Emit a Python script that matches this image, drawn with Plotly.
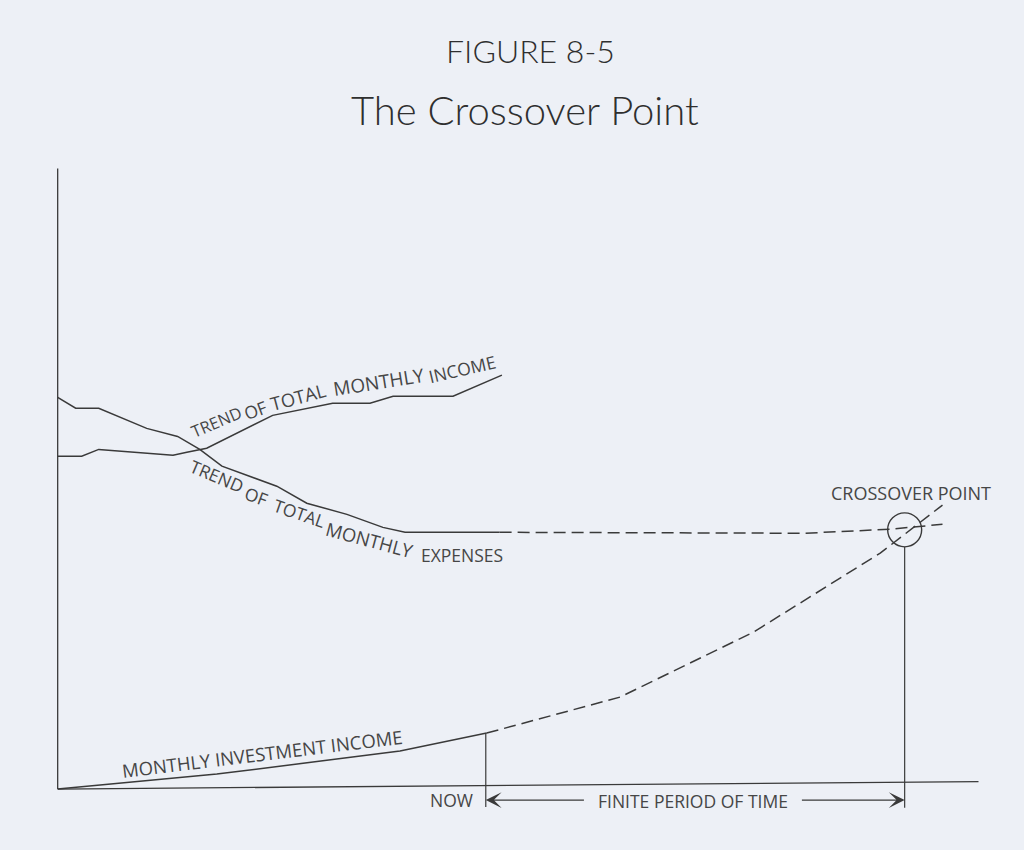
import plotly.graph_objects as go

# ---- data (time units 0..100 on x, amount units 0..100 on y) ----
exp_x = [0, 1.95, 4.45, 9.65, 13.0, 15.4, 17.8, 23.75, 27.0, 31.35, 35.25, 37.65, 47.9]
exp_y = [63.3, 61.55, 61.55, 58.3, 57.0, 54.9, 52.2, 48.95, 46.2, 44.4, 42.3, 41.5, 41.5]
exp_proj_x = [47.9, 81.0, 90.2, 95.9]
exp_proj_y = [41.5, 41.35, 42.0, 42.8]

inc_x = [0, 2.6, 4.45, 12.5, 14.0, 16.15, 23.3, 29.8, 33.85, 36.35, 42.85, 48.15]
inc_y = [53.8, 53.8, 54.9, 53.95, 54.45, 55.1, 60.4, 62.35, 62.35, 63.5, 63.5, 66.9]

inv_x = [0, 7.05, 17.25, 37.1, 46.5]
inv_y = [0, 0.97, 2.42, 6.14, 9.05]
inv_proj_x = [46.5, 60.95, 75.4, 89.15, 95.9]
inv_proj_y = [9.05, 14.86, 25.36, 38.13, 45.9]

NOW_X = 46.4
CROSS_X = 91.8
CROSS_Y = 41.9

LINE = "#3a3a3a"
TXT = "#464646"
BG = "#edf0f6"
DASH = "12px,6px"

fig = go.Figure()
solid = dict(color=LINE, width=1.5)
dashed = dict(color=LINE, width=1.5, dash=DASH)
fig.add_trace(go.Scatter(x=exp_x, y=exp_y, mode="lines", line=solid, hoverinfo="skip"))
fig.add_trace(go.Scatter(x=exp_proj_x, y=exp_proj_y, mode="lines", line=dashed, hoverinfo="skip"))
fig.add_trace(go.Scatter(x=inc_x, y=inc_y, mode="lines", line=solid, hoverinfo="skip"))
fig.add_trace(go.Scatter(x=inv_x, y=inv_y, mode="lines", line=solid, hoverinfo="skip"))
fig.add_trace(go.Scatter(x=inv_proj_x, y=inv_proj_y, mode="lines", line=dashed, hoverinfo="skip"))

shapes = [
    dict(type="line", x0=0, y0=0, x1=0, y1=100.3, line=dict(color=LINE, width=1.3)),
    dict(type="line", x0=0, y0=0, x1=99.8, y1=1.2, line=dict(color=LINE, width=1.3)),
    dict(type="line", x0=NOW_X, y0=-2.9, x1=NOW_X, y1=inv_y[-1], line=dict(color=LINE, width=1.2)),
    dict(type="line", x0=CROSS_X, y0=-3.0, x1=CROSS_X, y1=CROSS_Y - 2.75, line=dict(color=LINE, width=1.2)),
    dict(type="circle", xref="x", yref="y", xsizemode="pixel", ysizemode="pixel",
         xanchor=CROSS_X, yanchor=CROSS_Y, x0=-17, x1=17, y0=-17, y1=17,
         line=dict(color=LINE, width=1.4)),
]

ann = []
def txt(x, y, s, size=18.5, angle=0, font="Open Sans", color=TXT, weight=None, ref="data"):
    f = dict(family=font, size=size, color=color)
    if weight:
        f["weight"] = weight
    a = dict(x=x, y=y, text=s, showarrow=False, textangle=angle, font=f,
             xanchor="center", yanchor="middle")
    if ref == "paper":
        a["xref"] = "paper"
        a["yref"] = "paper"
    ann.append(a)

txt(0.512, 1.163, "FIGURE 8-5", size=32, font="Lato", color="#2f2f2f", weight=300, ref="paper")
txt(0.506, 1.0725, "The Crossover Point", size=40, font="Lato", color="#2f2f2f", weight=300, ref="paper")

# income label (follows the curve word by word)
txt(17.24, 59.38, "TREND", size=16.5, angle=-23)
txt(21.39, 61.27, "OF", size=17.5, angle=-20)
txt(26.08, 63.42, "TOTAL", size=18.5, angle=-15)
txt(34.83, 65.75, "MONTHLY", size=19, angle=-9)
txt(43.79, 67.9, "INCOME", size=17.5, angle=-13)
# expenses label
txt(17.3, 50.6, "TREND", size=17.5, angle=23)
txt(21.5, 47.4, "OF", size=17.5, angle=20)
txt(26.2, 44.6, "TOTAL", size=17.5, angle=19)
txt(33.8, 40.4, "MONTHLY", size=18.5, angle=15)
txt(43.8, 37.8, "EXPENSES", size=17.5, angle=0)
# investment label
txt(22.1, 5.8, "MONTHLY INVESTMENT INCOME", angle=-7)
txt(92.5, 47.8, "CROSSOVER POINT", size=18)
txt(42.7, -1.8, "NOW", size=17.5)
txt(68.9, -1.9, "FINITE PERIOD OF TIME", size=17.5)

for head, tail in [(NOW_X, 57.2), (CROSS_X, 80.5)]:
    ann.append(dict(x=head, y=-1.78, ax=tail, ay=-1.78, xref="x", yref="y", axref="x", ayref="y",
                    text="", showarrow=True, arrowhead=3, arrowsize=2.2, arrowwidth=1.2,
                    arrowcolor=LINE, standoff=0, startstandoff=0))

fig.update_layout(
    width=1024, height=850,
    margin=dict(l=30, r=16, t=158, b=30),
    paper_bgcolor=BG, plot_bgcolor=BG,
    showlegend=False,
    xaxis=dict(range=[-3, 103], visible=False, fixedrange=True),
    yaxis=dict(range=[-5, 102], visible=False, fixedrange=True),
    shapes=shapes, annotations=ann,
)

fig.write_html("out.html", config={"displayModeBar": False},
               post_script="document.body.style.margin='0';document.body.style.background='%s';" % BG)
